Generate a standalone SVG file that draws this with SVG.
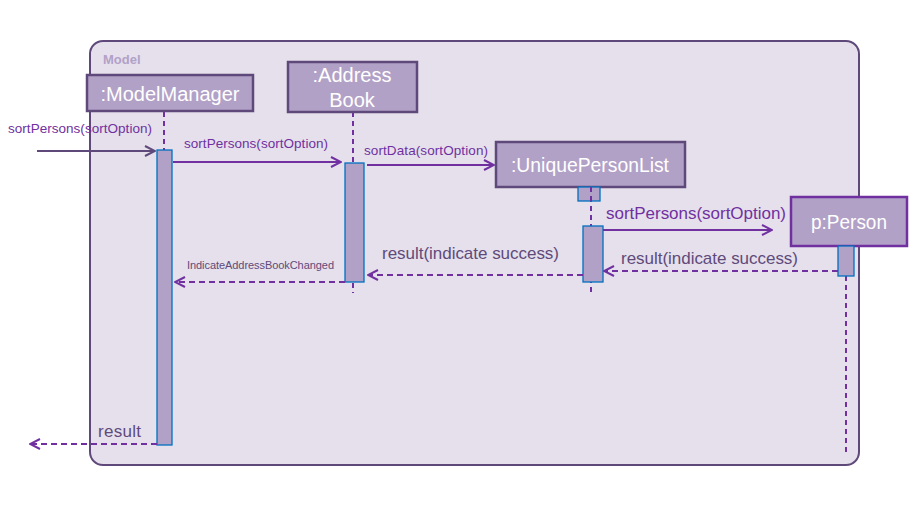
<svg xmlns="http://www.w3.org/2000/svg" width="918" height="505" viewBox="0 0 918 505">
<style>
.box{fill:#B2A1C7;stroke:#5F497A;stroke-width:2.5}
.box2{fill:#B2A1C7;stroke:#7030A0;stroke-width:2.5}
.bt{font-family:"Liberation Sans",Arial,sans-serif;font-size:20px;fill:#FFFFFF;text-anchor:middle}
.life{stroke:#7030A0;stroke-width:2;stroke-dasharray:5,4;fill:none}
.act{fill:#B2A1C7;stroke:#0070C0;stroke-width:1.3}
.call{stroke:#7030A0;stroke-width:2;fill:none;marker-end:url(#open)}
.ret{stroke:#7030A0;stroke-width:2;stroke-dasharray:6,4;fill:none;marker-end:url(#open)}
.lbl{font-family:"Liberation Sans",Arial,sans-serif;fill:#7030A0}
.lbl2{font-family:"Liberation Sans",Arial,sans-serif;fill:#604A7B}
</style>
<defs>
<marker id="open" viewBox="0 0 12 12" refX="11" refY="6" markerWidth="12" markerHeight="12" markerUnits="userSpaceOnUse" orient="auto">
<path d="M1,1 L11,6 L1,11" fill="none" stroke="#7030A0" stroke-width="2" stroke-dasharray="none"/>
</marker>
<marker id="open2" viewBox="0 0 12 12" refX="11" refY="6" markerWidth="12" markerHeight="12" markerUnits="userSpaceOnUse" orient="auto">
<path d="M1,1 L11,6 L1,11" fill="none" stroke="#5F497A" stroke-width="2"/>
</marker>
</defs>
<g id="frame">
<rect x="90" y="41" width="769" height="424" rx="13" fill="#E5E0EC" stroke="#5F497A" stroke-width="2"/>
<text x="103" y="64" font-family="Liberation Sans,Arial,sans-serif" font-size="13" font-weight="bold" fill="#B2A1C7">Model</text>
</g>
<g id="modelmanager">
<line class="life" x1="164" y1="112" x2="164" y2="150"/>
<rect class="box" x="87" y="75" width="166" height="36"/>
<text class="bt" x="170" y="101">:ModelManager</text>
<rect class="act" x="157" y="150" width="15" height="295"/>
</g>
<g id="addressbook">
<line class="life" x1="353" y1="112" x2="353" y2="293"/>
<rect class="box" x="288" y="62" width="129" height="50"/>
<text class="bt" x="352" y="82">:Address</text>
<text class="bt" x="352" y="107">Book</text>
<rect class="act" x="345" y="163" width="19" height="119"/>
</g>
<g id="uniquepersonlist">
<line class="life" x1="591" y1="188" x2="591" y2="294"/>
<rect class="box" x="496" y="142" width="189" height="45"/>
<text class="bt" x="590" y="172" textLength="158" lengthAdjust="spacingAndGlyphs">:UniquePersonList</text>
<rect class="act" x="578" y="187" width="22" height="14"/>
<line class="life" x1="591" y1="187" x2="591" y2="201"/>
<rect class="act" x="583" y="226" width="20" height="56"/>
</g>
<g id="person">
<line class="life" x1="846" y1="276" x2="846" y2="453"/>
<rect class="box2" x="791" y="197" width="116" height="49"/>
<text class="bt" x="849" y="229" textLength="76" lengthAdjust="spacingAndGlyphs">p:Person</text>
<rect class="act" x="838" y="246" width="16" height="30"/>
</g>
<g id="connectors">
<line x1="37" y1="151" x2="155" y2="151" stroke="#5F497A" stroke-width="2" marker-end="url(#open2)"/>
<text class="lbl" x="8" y="133" font-size="13.5" textLength="144">sortPersons(sortOption)</text>
<line class="call" x1="173" y1="162" x2="341" y2="162"/>
<text class="lbl" x="184" y="148" font-size="13.5" textLength="144">sortPersons(sortOption)</text>
<line class="call" x1="367" y1="165" x2="494" y2="165"/>
<text class="lbl" x="364" y="155" font-size="13.5" textLength="124">sortData(sortOption)</text>
<line class="call" x1="603" y1="230" x2="772" y2="230"/>
<text class="lbl" x="606" y="219" font-size="17" textLength="180">sortPersons(sortOption)</text>
<line class="ret" x1="838" y1="271" x2="604" y2="271"/>
<text class="lbl2" x="621" y="264" font-size="17" textLength="177">result(indicate success)</text>
<line class="ret" x1="583" y1="275" x2="368" y2="275"/>
<text class="lbl2" x="382" y="259" font-size="17" textLength="177">result(indicate success)</text>
<line class="ret" x1="345" y1="282" x2="175" y2="282"/>
<text class="lbl2" x="187" y="269" font-size="11" textLength="147">IndicateAddressBookChanged</text>
<line class="ret" x1="157" y1="444" x2="30" y2="444"/>
<text class="lbl2" x="98" y="437" font-size="17" textLength="43">result</text>
</g>
</svg>
